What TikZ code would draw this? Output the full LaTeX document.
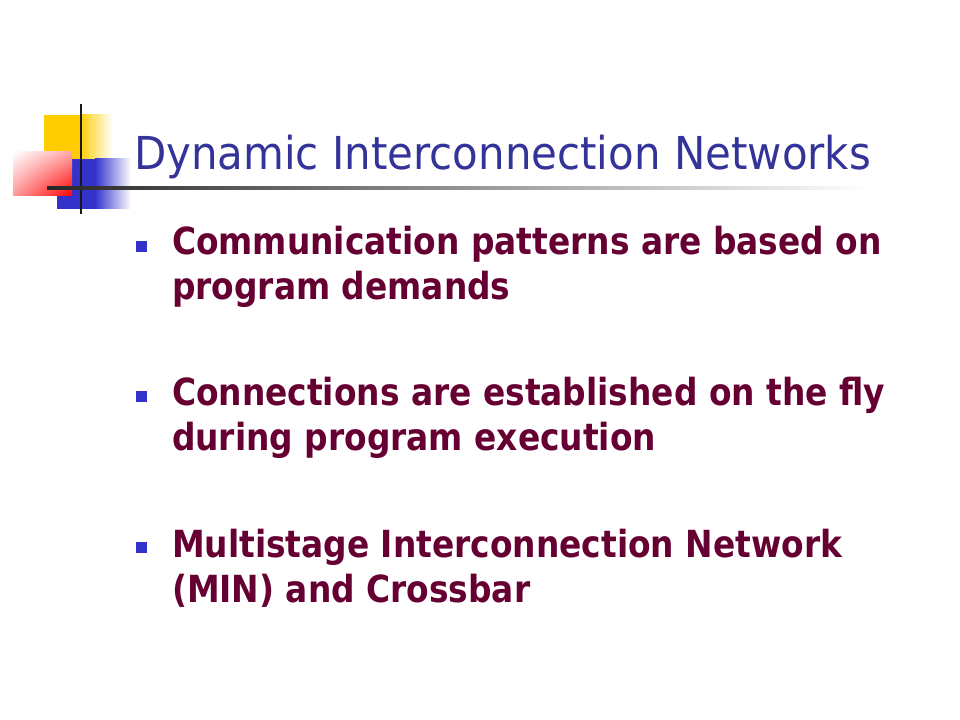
\documentclass[tikz,border=0pt]{standalone}
\usepackage{fontspec}
\usetikzlibrary{shadings}
\newfontfamily\titlefont{DejaVu Sans}[FakeStretch=0.925]
\newfontfamily\bulletfont{DejaVu Sans}[FakeStretch=0.88]
\newlength{\du}
\setlength{\du}{0.75pt}
\definecolor{titlecolor}{rgb}{0.200000, 0.200000, 0.600000}
\definecolor{bodycolor}{rgb}{0.400000, 0.000000, 0.200000}
\definecolor{bulletcolor}{rgb}{0.200000, 0.200000, 0.800000}
\definecolor{logoyellow}{rgb}{1.000000, 0.800000, 0.000000}
\definecolor{logored}{rgb}{1.000000, 0.000000, 0.000000}
\definecolor{logoblue}{rgb}{0.200000, 0.200000, 0.800000}
\tikzset{
  titleline/.style={anchor=base west, inner sep=0pt, text=titlecolor, font=\titlefont\fontsize{34}{34}\selectfont},
  bulletline/.style={anchor=base west, inner sep=0pt, text=bodycolor, font=\bulletfont\bfseries\fontsize{28}{28}\selectfont},
  bulletmark/.style={fill=bulletcolor, draw=none},
}

\begin{document}
\begin{tikzpicture}
\pgftransformxscale{1.000000}
\pgftransformyscale{-1.000000}
\useasboundingbox (0\du,0\du) rectangle (960\du,720\du);
% logo squares
\fill[logoyellow] (44\du,115\du) rectangle (80\du,160\du);
\shade[left color=logoyellow, right color=white] (80\du,115\du) rectangle (112\du,160\du);
\fill[logoblue] (57\du,159\du) rectangle (95\du,209\du);
\shade[left color=logoblue, right color=white] (95\du,159\du) rectangle (131\du,209\du);
\shade[lower right=logored, lower left=logored!40, upper right=logored!35, upper left=white] (13\du,152\du) rectangle (72\du,196\du);
% logo lines
\pgfsetlinewidth{2.000000\du}
\draw[black!90] (81\du,104\du)--(81\du,214\du);
\shade[left color=black!85, right color=white] (47\du,186.5\du) rectangle (870\du,189.5\du);
% title
\node[titleline] (title) at (133\du,170\du){Dynamic Interconnection Networks};
% bullet marks
\fill[bulletmark] (136\du,241\du) rectangle (147\du,252\du);
\fill[bulletmark] (136\du,391\du) rectangle (147\du,402\du);
\fill[bulletmark] (136\du,542\du) rectangle (147\du,553\du);
% bullet texts
\node[bulletline] (demandsA) at (171\du,255\du){Communication patterns are based on};
\node[bulletline] (demandsB) at (171\du,300\du){program demands};
\node[bulletline] (flyA) at (171\du,405\du){Connections are established on the fly};
\node[bulletline] (flyB) at (171\du,450\du){during program execution};
\node[bulletline] (minA) at (171\du,557\du){Multistage Interconnection Network};
\node[bulletline] (minB) at (171\du,602\du){(MIN) and Crossbar};
\end{tikzpicture}
\end{document}
